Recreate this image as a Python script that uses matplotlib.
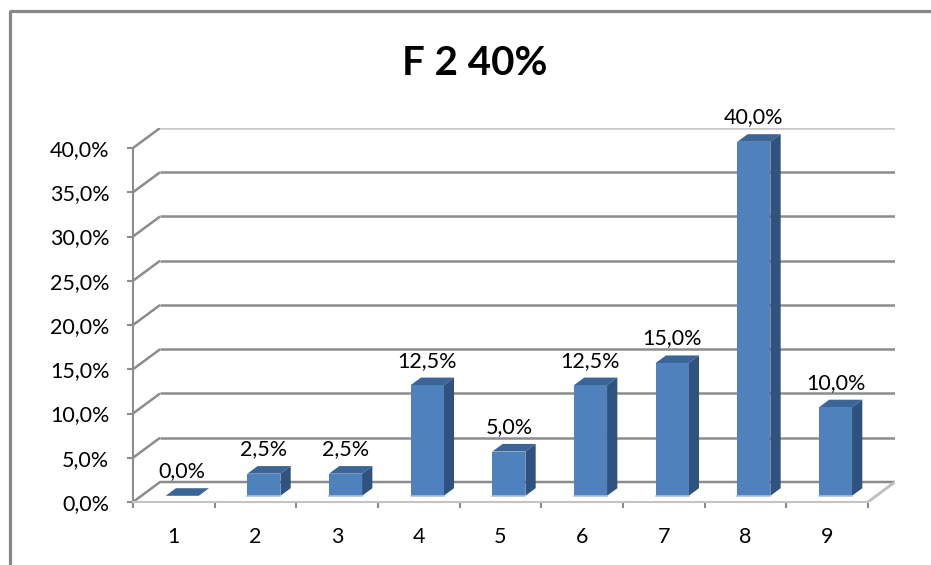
import matplotlib
matplotlib.use("Agg")
import matplotlib.pyplot as plt
from matplotlib.lines import Line2D
from matplotlib.patches import Polygon

plt.rcParams["font.family"] = ["Lato", "DejaVu Sans"]

categories = ["1", "2", "3", "4", "5", "6", "7", "8", "9"]
values = [0.0, 2.5, 2.5, 12.5, 5.0, 12.5, 15.0, 40.0, 10.0]
yticks = [0, 5, 10, 15, 20, 25, 30, 35, 40]
title = "F 2 40%"

W, H = 931, 565
# pseudo 3d depth of the floor, in data units
DX = 0.3315
DY = 2.26
BAR_W = 0.405
D0, D1 = 0.31, 0.69

FRONT = "#4f81bd"
SIDE = "#30527e"
TOP = "#3b6497"
GRID = "#8c8c8c"
FLOOR = "#c4c4c4"


def pct(v):
    return f"{v:.1f}".replace(".", ",") + "%"


fig = plt.figure(figsize=(W / 100, H / 100), dpi=100)
fig.patch.set_facecolor("white")

# outer chart border (only top and left edges are visible)
fig.add_artist(Line2D([9.5 / W, 9.5 / W], [0, 1 - 11 / H], color="#878787", lw=2.3,
                      transform=fig.transFigure, solid_capstyle="butt"))
fig.add_artist(Line2D([8.5 / W, 1], [1 - 11 / H, 1 - 11 / H], color="#878787", lw=2.3,
                      transform=fig.transFigure, solid_capstyle="butt"))

fig.text(475 / W, 1 - 75 / H, title, ha="center", va="baseline",
         fontsize=29, fontweight="bold")

ax = fig.add_axes([133 / W, 63 / H, (895 - 133) / W, (502 - 128) / H])
ax.set_xlim(0, len(categories) + DX)
ax.set_ylim(0, yticks[-1] + DY)
ax.patch.set_alpha(0)

for s in ["top", "right"]:
    ax.spines[s].set_visible(False)
ax.spines["left"].set_bounds(0, yticks[-1])
ax.spines["left"].set_color(GRID)
ax.spines["left"].set_linewidth(1.5)
ax.spines["bottom"].set_bounds(0, len(categories))
ax.spines["bottom"].set_color(FLOOR)
ax.spines["bottom"].set_linewidth(1.5)

ax.set_yticks(yticks)
ax.set_yticklabels([pct(v) for v in yticks])
ax.tick_params(axis="y", length=4.5, width=1.5, color=GRID, pad=12.5, labelsize=15.5)

ax.set_xticks([i + 0.5 for i in range(len(categories))])
ax.set_xticklabels(categories)
ax.set_xticks(range(len(categories) + 1), minor=True)
ax.tick_params(axis="x", which="major", length=0, pad=18, labelsize=15.5)
ax.tick_params(axis="x", which="minor", length=4.5, width=1.5, color=GRID)

n = len(categories)
# back wall gridlines with their diagonal on the side wall
for v in yticks[1:]:
    c = "#c8c8c8" if v == yticks[-1] else GRID
    ax.plot([0, DX], [v, v + DY], color=GRID, lw=1.8, solid_capstyle="butt", zorder=1)
    ax.plot([DX, n + DX], [v + DY, v + DY], color=c, lw=1.8,
            solid_capstyle="butt", zorder=1)
# floor
ax.plot([0, DX, n + DX, n], [0, DY, DY, 0], color=GRID, lw=1.8, zorder=1)
ax.plot([n, n + DX], [0, DY], color=FLOOR, lw=1.8, zorder=1)

# bars, drawn left to right
for i, v in enumerate(values):
    x0 = i + 0.5 - BAR_W / 2 + D0 * DX
    x1 = x0 + BAR_W
    y0 = D0 * DY
    ox = (D1 - D0) * DX
    oy = (D1 - D0) * DY
    top = Polygon([(x0, y0 + v), (x1, y0 + v), (x1 + ox, y0 + v + oy),
                   (x0 + ox, y0 + v + oy)], closed=True, fc=TOP, ec="none", zorder=3)
    ax.add_patch(top)
    if v > 0:
        side = Polygon([(x1, y0), (x1 + ox, y0 + oy), (x1 + ox, y0 + v + oy),
                        (x1, y0 + v)], closed=True, fc=SIDE, ec="none", zorder=3)
        ax.add_patch(side)
        ax.add_patch(Polygon([(x0, y0), (x1, y0), (x1, y0 + v), (x0, y0 + v)],
                             closed=True, fc=FRONT, ec="none", zorder=4))
        ax.plot([x0, x1], [y0, y0], color="#a9c1df", lw=1.2, zorder=5)
    ax.annotate(pct(v), ((x0 + x1) / 2, y0 + v + oy), xytext=(0, 5),
                textcoords="offset points", ha="center", va="bottom",
                fontsize=15.5, zorder=6)

fig.savefig("out.png", dpi=100)
